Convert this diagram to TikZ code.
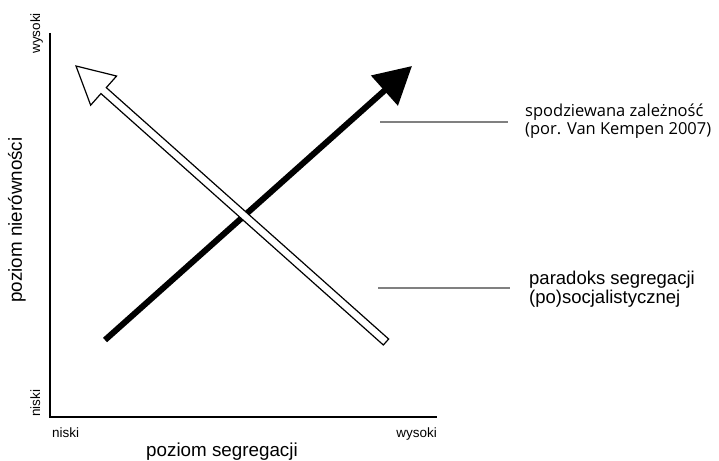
\documentclass[tikz,border=0pt]{standalone}
\usepackage{fontspec}
\setmainfont{Liberation Sans}
\newfontfamily\opensans{Open Sans}
\usetikzlibrary{arrows.meta,calc}
\begin{document}
\begin{tikzpicture}[x=1pt,y=-1pt,
  axis/.style={line width=2.6pt,line cap=butt},
  leader/.style={draw=black!50,line width=1.4pt},
  lbl/.style={inner sep=0pt,anchor=base west,align=left},
  small/.style={font=\fontsize{13.5}{15}\selectfont,inner sep=0pt},
  big/.style={font=\fontsize{18.8}{20}\selectfont,inner sep=0pt}]
\useasboundingbox (0,0) rectangle (719,460);
% axes
\coordinate (O) at (50,417);
\coordinate (Ytop) at (50,33);
\coordinate (Xend) at (437,417);
\draw[axis] (Ytop) -- (O) -- (Xend);
% axis labels
\node[small,rotate=90,anchor=base east] (yhi) at (40,13) {wysoki};
\node[small,rotate=90,anchor=base west] (ylo) at (40,417) {niski};
\node[big,rotate=90] (ylab) at (17,220) {poziom nierówności};
\node[small,anchor=base west] (xlo) at (52,437) {niski};
\node[small,anchor=base east] (xhi) at (437,437) {wysoki};
\node[big,anchor=base] (xlab) at (222,456) {poziom segregacji};
% black arrow
\coordinate (btail) at (105,340);
\coordinate (btip) at (412,66);
\draw[line width=6pt,-{Triangle[length=37pt,width=39pt]}] (btail) -- (btip);
% white arrow
\coordinate (wtail) at (386,342);
\coordinate (wtip) at (76,66);
\coordinate (wbase) at ($(wtip)!37pt!(wtail)$);
\draw[line width=1.2pt,fill=white,line join=miter]
  ($(wtail)!4pt!90:(wtip)$) --
  ($(wbase)!4pt!-90:(wtail)$) --
  ($(wbase)!19.5pt!-90:(wtail)$) --
  (wtip) --
  ($(wbase)!19.5pt!90:(wtail)$) --
  ($(wbase)!4pt!90:(wtail)$) --
  ($(wtail)!4pt!-90:(wtip)$) -- cycle;
% leaders
\coordinate (l1a) at (380,122);
\coordinate (l1b) at (508,122);
\coordinate (l2a) at (378,288);
\coordinate (l2b) at (510,288);
\draw[leader] (l1a) -- (l1b);
\draw[leader] (l2a) -- (l2b);
\node[lbl,font=\opensans\fontsize{16.5}{17.5}\selectfont] (t1) at (525,134) {spodziewana zależność\\(por. Van Kempen 2007)};
\node[lbl,font=\fontsize{18.5}{19}\selectfont] (t2) at (529,303) {paradoks segregacji\\(po)socjalistycznej};
\end{tikzpicture}
\end{document}
